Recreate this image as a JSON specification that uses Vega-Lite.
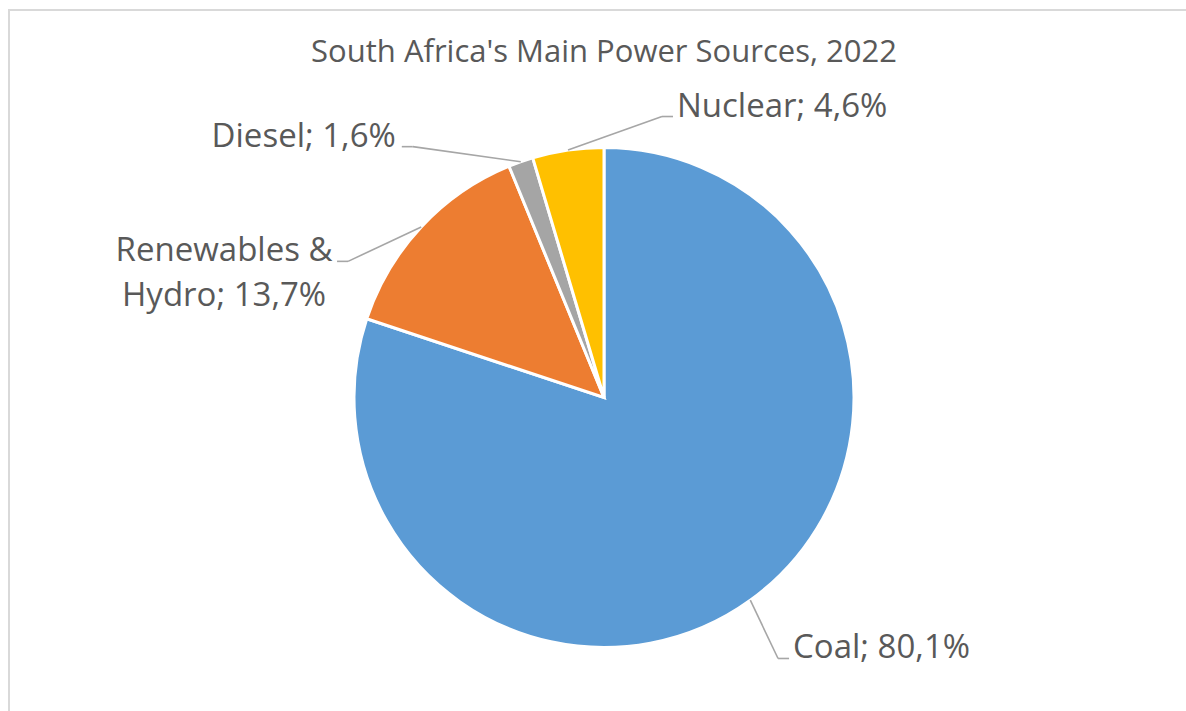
{
  "$schema": "https://vega.github.io/schema/vega-lite/v6.json",
  "width": 1190,
  "height": 775,
  "autosize": "none",
  "padding": {"left": 9, "top": 10, "right": 0, "bottom": 0},
  "background": "white",
  "title": {
    "text": "South Africa's Main Power Sources, 2022",
    "font": "Open Sans",
    "fontSize": 31,
    "fontWeight": "normal",
    "color": "#595959",
    "anchor": "middle",
    "frame": "group",
    "baseline": "alphabetic",
    "offset": -83
  },
  "config": {
    "view": {"stroke": "#D9D9D9", "strokeWidth": 2},
    "axis": {"grid": false}
  },
  "data": {
    "values": [
      {"source": "Coal", "share": 80.1, "label": "Coal; 80,1%"},
      {"source": "Renewables & Hydro", "share": 13.7, "label": "Renewables &\nHydro; 13,7%"},
      {"source": "Diesel", "share": 1.6, "label": "Diesel; 1,6%"},
      {"source": "Nuclear", "share": 4.6, "label": "Nuclear; 4,6%"}
    ]
  },
  "transform": [
    {"window": [{"op": "sum", "field": "share", "as": "cumEnd"}], "frame": [null, 0]},
    {"calculate": "datum.cumEnd - datum.share", "as": "cumStart"},
    {"calculate": "2 * PI * (datum.cumEnd - datum.share / 2) / 100", "as": "tm"},
    {"calculate": "datum.source === 'Coal' ? 0.037 : datum.source === 'Diesel' ? -0.312 : datum.source === 'Nuclear' ? 0.348 : -0.262", "as": "off"},
    {"calculate": "datum.source === 'Coal' ? 313.7 : datum.source === 'Diesel' ? 315.4 : datum.source === 'Nuclear' ? 286.9 : 289.9", "as": "rl"},
    {"calculate": "250 * sin(datum.tm)", "as": "sx"},
    {"calculate": "-250 * cos(datum.tm)", "as": "sy"},
    {"calculate": "datum.rl * sin(datum.tm + datum.off)", "as": "bx"},
    {"calculate": "-datum.rl * cos(datum.tm + datum.off)", "as": "by"},
    {"calculate": "datum.bx > 0 ? 1 : -1", "as": "side"},
    {"calculate": "datum.bx + 11 * datum.side", "as": "ex"},
    {"calculate": "datum.by", "as": "ey"}
  ],
  "layer": [
    {
      "mark": {"type": "arc", "outerRadius": 250, "stroke": "white", "strokeWidth": 3},
      "encoding": {
        "theta": {"field": "cumStart", "type": "quantitative", "stack": null, "scale": {"domain": [0, 100], "range": [0, 6.283185307179586]}},
        "theta2": {"field": "cumEnd"},
        "color": {
          "field": "source",
          "type": "nominal",
          "scale": {"domain": ["Coal", "Renewables & Hydro", "Diesel", "Nuclear"], "range": ["#5B9BD5", "#ED7D31", "#A5A5A5", "#FFC000"]},
          "legend": null
        }
      }
    },
    {
      "mark": {"type": "rule", "stroke": "#A6A6A6", "strokeWidth": 1.6},
      "encoding": {
        "x": {"field": "sx", "type": "quantitative", "scale": {"domain": [-595, 595], "nice": false, "zero": false}, "axis": null},
        "y": {"field": "sy", "type": "quantitative", "scale": {"domain": [-387.5, 387.5], "reverse": true, "nice": false, "zero": false}, "axis": null},
        "x2": {"field": "bx"},
        "y2": {"field": "by"}
      }
    },
    {
      "mark": {"type": "rule", "stroke": "#A6A6A6", "strokeWidth": 1.6},
      "encoding": {
        "x": {"field": "bx", "type": "quantitative"},
        "y": {"field": "by", "type": "quantitative"},
        "x2": {"field": "ex"},
        "y2": {"field": "ey"}
      }
    },
    {
      "transform": [{"filter": "datum.side > 0"}],
      "mark": {"type": "text", "align": "left", "baseline": "alphabetic", "dx": 4, "font": "Open Sans", "fontSize": 33, "lineHeight": 45, "lineBreak": "\n", "fill": "#595959"},
      "encoding": {
        "x": {"field": "ex", "type": "quantitative"},
        "y": {"field": "ey", "type": "quantitative"},
        "text": {"field": "label"}
      }
    },
    {
      "transform": [{"filter": "datum.side < 0 && datum.source !== 'Renewables & Hydro'"}],
      "mark": {"type": "text", "align": "right", "baseline": "alphabetic", "dx": -6, "font": "Open Sans", "fontSize": 33, "lineHeight": 45, "lineBreak": "\n", "fill": "#595959"},
      "encoding": {
        "x": {"field": "ex", "type": "quantitative"},
        "y": {"field": "ey", "type": "quantitative"},
        "text": {"field": "label"}
      }
    },
    {
      "transform": [{"filter": "datum.source === 'Renewables & Hydro'"}],
      "mark": {"type": "text", "align": "center", "baseline": "alphabetic", "dx": -113, "font": "Open Sans", "fontSize": 33, "lineHeight": 45, "lineBreak": "\n", "fill": "#595959"},
      "encoding": {
        "x": {"field": "ex", "type": "quantitative"},
        "y": {"field": "ey", "type": "quantitative"},
        "text": {"field": "label"}
      }
    }
  ]
}
